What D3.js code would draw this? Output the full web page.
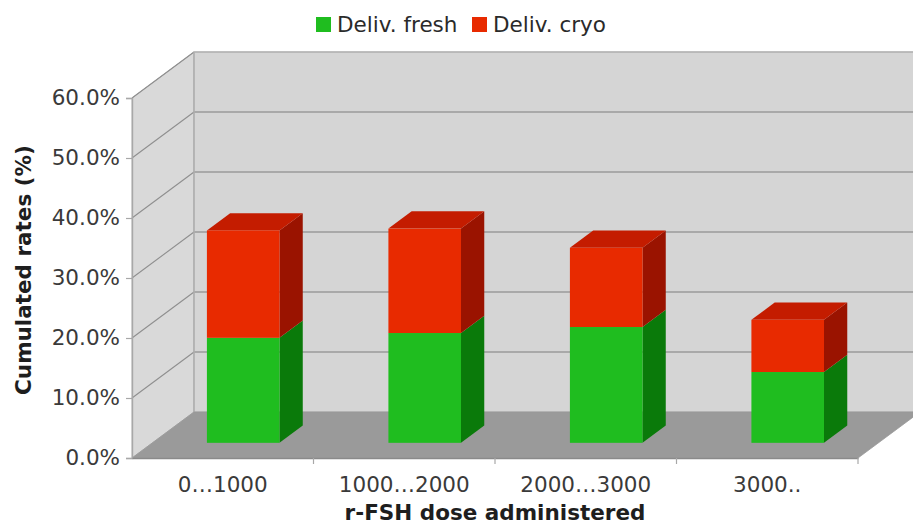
<!DOCTYPE html>
<html>
<head>
<meta charset="utf-8">
<script src="https://cdn.jsdelivr.net/npm/d3@7"></script>
<style>
  html, body { margin: 0; padding: 0; background: #ffffff; }
  svg { display: block; font-family: "DejaVu Sans", Verdana, sans-serif; }
</style>
</head>
<body>
<svg id="chart" width="913" height="525"></svg>
<script>
// Dose groups and stacked delivery rates (%)
const categories = ["0…1000", "1000…2000", "2000…3000", "3000.."];
const fresh = [17.5, 18.3, 19.3, 11.8];
const cryo = [17.9, 17.4, 13.2, 8.7];
const seriesNames = ["Deliv. fresh", "Deliv. cryo"];
const yTicks = [0, 10, 20, 30, 40, 50, 60];

const svg = d3.select("#chart");

// Front plane of the 3D box and depth offset
const plotLeft = 132, plotRight = 858, plotBottom = 458, plotTop = 98;
const DX = 62, DY = 46;                  // full depth shift
const zFront = 0.33, zBack = 0.705;      // bar depth range (fraction of depth)

const x = d3.scaleBand().domain(categories).range([plotLeft, plotRight])
  .paddingInner(0.6).paddingOuter(0.3);
const y = d3.scaleLinear().domain([0, 60]).range([plotBottom, plotTop]);

const P = (px, py, z) => [px + z * DX, py - z * DY];
const poly = pts => pts.map(p => p.join(",")).join(" ");

// Left side wall
svg.append("polygon")
  .attr("points", poly([P(plotLeft, y(60), 0), P(plotLeft, y(60), 1), P(plotLeft, y(0), 1), P(plotLeft, y(0), 0)]))
  .attr("fill", "#d9d9d9").attr("stroke", "#b4b4b4").attr("stroke-width", 1);

// Back wall
svg.append("polygon")
  .attr("points", poly([P(plotLeft, y(60), 1), P(plotRight, y(60), 1), P(plotRight, y(0), 1), P(plotLeft, y(0), 1)]))
  .attr("fill", "#d5d5d5").attr("stroke", "#b4b4b4").attr("stroke-width", 1.2);

// Gridlines: diagonal on the side wall, horizontal on the back wall
const grid = svg.append("g");
yTicks.filter(d => d > 0).forEach(d => {
  grid.append("line")
    .attr("x1", P(plotLeft, y(d), 0)[0]).attr("y1", P(plotLeft, y(d), 0)[1])
    .attr("x2", P(plotLeft, y(d), 1)[0]).attr("y2", P(plotLeft, y(d), 1)[1])
    .attr("stroke", "#8f8f8f").attr("stroke-width", 1.1);
  grid.append("line")
    .attr("x1", P(plotLeft, y(d), 1)[0]).attr("y1", P(plotLeft, y(d), 1)[1])
    .attr("x2", P(plotRight, y(d), 1)[0]).attr("y2", P(plotRight, y(d), 1)[1])
    .attr("stroke", d === 60 ? "#b4b4b4" : "#9a9a9a").attr("stroke-width", 1.6);
});
// Back wall left edge
svg.append("line")
  .attr("x1", P(plotLeft, y(60), 1)[0]).attr("y1", P(plotLeft, y(60), 1)[1])
  .attr("x2", P(plotLeft, y(0), 1)[0]).attr("y2", P(plotLeft, y(0), 1)[1])
  .attr("stroke", "#b0b0b0").attr("stroke-width", 1.4);

// Floor
svg.append("polygon")
  .attr("points", poly([P(plotLeft, y(0), 0), P(plotRight, y(0), 0), P(plotRight, y(0), 1), P(plotLeft, y(0), 1)]))
  .attr("fill", "#9a9a9a").attr("stroke", "#9a9a9a").attr("stroke-width", 0.8);

// Stacked 3D bars
const stack = d3.stack().keys([0, 1]).value((d, k) => d[k]);
const rows = categories.map((c, i) => [fresh[i], cryo[i]]);
const layers = stack(rows);
const colors = [
  { front: "#1fbd1f", side: "#0a7a0a", top: "#139a13" },
  { front: "#e82a00", side: "#9a1300", top: "#c41c00" }
];

const bars = svg.append("g");
categories.forEach((c, i) => {
  const x0 = x(c), x1 = x(c) + x.bandwidth();
  layers.forEach((layer, k) => {
    const [v0, v1] = layer[i];
    const col = colors[k];
    const g = bars.append("g");
    // right side face
    g.append("polygon")
      .attr("points", poly([P(x1, y(v0), zFront), P(x1, y(v0), zBack), P(x1, y(v1), zBack), P(x1, y(v1), zFront)]))
      .attr("fill", col.side);
    // top face (visible on the upper segment)
    if (k === layers.length - 1) {
      g.append("polygon")
        .attr("points", poly([P(x0, y(v1), zFront), P(x1, y(v1), zFront), P(x1, y(v1), zBack), P(x0, y(v1), zBack)]))
        .attr("fill", col.top);
    }
    // front face
    const f0 = P(x0, y(v1), zFront), f1 = P(x1, y(v0), zFront);
    g.append("rect")
      .attr("x", f0[0]).attr("y", f0[1])
      .attr("width", f1[0] - f0[0]).attr("height", f1[1] - f0[1])
      .attr("fill", col.front);
  });
});

// Y axis on the front-left edge
const yAxis = d3.axisLeft(y).tickValues(yTicks)
  .tickFormat(d => d.toFixed(1) + "%").tickSize(6).tickPadding(6);
const gy = svg.append("g").attr("transform", `translate(${plotLeft},0)`).call(yAxis);
gy.select(".domain").attr("stroke", "#a8a8a8").attr("stroke-width", 1.4);
gy.selectAll(".tick line").attr("stroke", "#a8a8a8").attr("stroke-width", 1.2);
gy.selectAll(".tick text").attr("fill", "#3a3a3a")
  .style("font-size", "21.5px").style("font-family", "DejaVu Sans, Verdana, sans-serif");

// X axis along the front floor edge
const xAxis = d3.axisBottom(x).tickSize(0).tickPadding(19);
const gx = svg.append("g").attr("transform", `translate(0,${plotBottom})`).call(xAxis);
gx.select(".domain").attr("stroke", "#8a8a8a").attr("stroke-width", 1.4);
gx.selectAll(".tick text").attr("fill", "#3a3a3a")
  .style("font-size", "21.5px").style("font-family", "DejaVu Sans, Verdana, sans-serif");
// Category boundary ticks
const bounds = categories.map(c => x(c) - x.step() * x.paddingInner() / 2).slice(1).concat([plotRight]);
gx.selectAll("line.bound").data(bounds).join("line").attr("class", "bound")
  .attr("x1", d => d).attr("x2", d => d).attr("y1", 0).attr("y2", 6)
  .attr("stroke", "#a8a8a8").attr("stroke-width", 1.2);

// Axis titles
svg.append("text")
  .attr("x", (plotLeft + plotRight) / 2).attr("y", 520)
  .attr("text-anchor", "middle").attr("font-weight", "bold")
  .attr("font-size", 21.5).attr("fill", "#1e1e1e")
  .text("r-FSH dose administered");
svg.append("text")
  .attr("transform", "translate(31,270) rotate(-90)")
  .attr("text-anchor", "middle").attr("font-weight", "bold")
  .attr("font-size", 21.5).attr("fill", "#1e1e1e")
  .text("Cumulated rates (%)");

// Legend
const legend = svg.append("g");
const legendX = [316, 472];
seriesNames.forEach((name, k) => {
  legend.append("rect")
    .attr("x", legendX[k]).attr("y", 17).attr("width", 15).attr("height", 15)
    .attr("fill", colors[k].front);
  legend.append("text")
    .attr("x", legendX[k] + 21).attr("y", 32)
    .attr("font-size", 21.5).attr("fill", "#2a2a2a")
    .text(name);
});
</script>
</body>
</html>
